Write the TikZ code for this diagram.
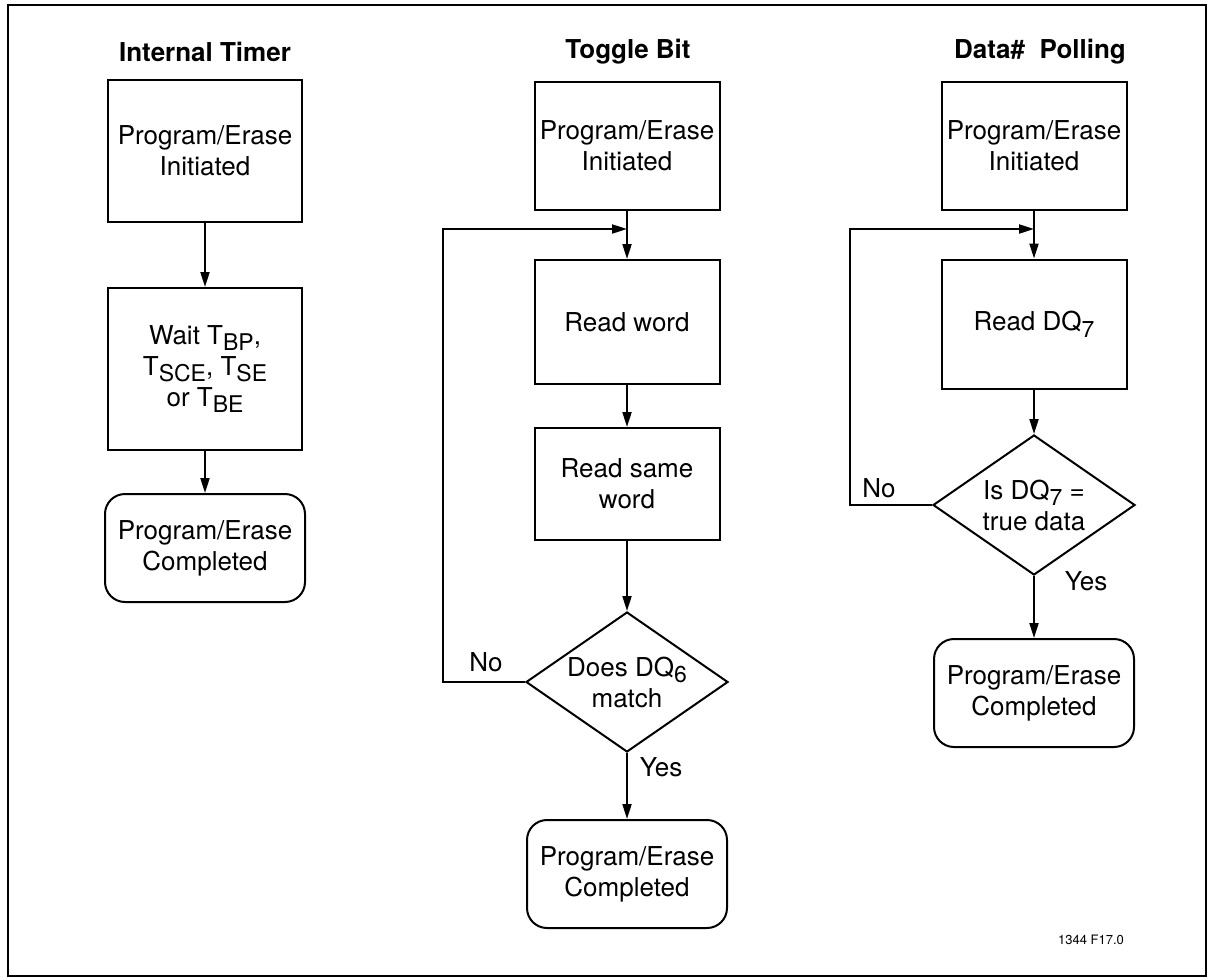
\documentclass[tikz,border=0pt]{standalone}
\usepackage{fontspec}
\setmainfont{TeX Gyre Heros}
\usetikzlibrary{arrows.meta,shapes.geometric}

% lowered subscript as printed in the data sheet
\newcommand{\lowsub}[1]{\raisebox{-0.5ex}{\fontsize{11.5}{11.5}\selectfont #1}}

\begin{document}
\begin{tikzpicture}[x=0.5pt,y=-0.5pt,
	font=\fontsize{13}{15.5}\selectfont,
	line width=1pt,
	>={Triangle[length=7.5pt,width=4.5pt]},
	stepbox/.style={draw,align=center,inner sep=0pt},
	endbox/.style={draw,align=center,inner sep=0pt,rounded corners=10pt,
		minimum width=100pt,minimum height=54pt},
	test/.style={draw,diamond,align=center,inner sep=0pt,aspect=1.45,
		minimum width=101pt,minimum height=70pt},
	head/.style={font=\fontsize{13}{15}\selectfont\bfseries}]
	\useasboundingbox (0,0) rectangle (1213,979);
	\draw (8,5) rectangle (1206,976);
	
	% internal timer
	\node[head] (h1) at (205,52) {Internal Timer};
	\node[stepbox,minimum width=97pt,minimum height=70.5pt] (init1) at (205,151) {Program/Erase\\Initiated};
	\node[stepbox,minimum width=97pt,minimum height=81pt] (wait) at (205,369) {Wait T\lowsub{BP},\\T\lowsub{SCE}, T\lowsub{SE}\\or T\lowsub{BE}};
	\node[endbox] (done1) at (205,548) {Program/Erase\\Completed};
	\draw[->] (init1) -- (wait);
	\draw[->] (wait) -- (done1);
	
	% toggle bit
	\node[head] (h2) at (628,52) {Toggle Bit};
	\node[stepbox,minimum width=92.5pt,minimum height=64pt] (init2) at (627,146) {Program/Erase\\Initiated};
	\node[stepbox,minimum width=92.5pt,minimum height=62pt] (read2) at (627,322) {Read word};
	\node[stepbox,minimum width=92.5pt,minimum height=56pt] (same) at (627,484) {Read same\\word};
	\node[test] (dq6) at (627,682) {Does DQ\lowsub{6}\\match};
	\node[endbox] (done2) at (627,874) {Program/Erase\\Completed};
	\coordinate (back2) at (627,229);
	\draw[->] (init2) -- (read2);
	\draw[->] (read2) -- (same);
	\draw[->] (same) -- (dq6);
	\draw[->] (dq6) -- (done2);
	\draw[->] (dq6.west) -- ++(-82,0) |- (back2);
	\node (no2) at (486,662) {No};
	\node (yes2) at (661,767) {Yes};
	
	% data# polling
	\node[head] (h3) at (1040,52) {Data\#\ \ Polling};
	\node[stepbox,minimum width=92.5pt,minimum height=64pt] (init3) at (1034,146) {Program/Erase\\Initiated};
	\node[stepbox,minimum width=92.5pt,minimum height=64.5pt] (read3) at (1034,324) {Read DQ\lowsub{7}};
	\node[test] (dq7) at (1034,505) {Is DQ\lowsub{7} =\\true data};
	\node[endbox] (done3) at (1034,693) {Program/Erase\\Completed};
	\coordinate (back3) at (1034,229);
	\draw[->] (init3) -- (read3);
	\draw[->] (read3) -- (dq7);
	\draw[->] (dq7) -- (done3);
	\draw[->] (dq7.west) -- ++(-82,0) |- (back3);
	\node (no3) at (879,488) {No};
	\node (yes3) at (1086,581) {Yes};
	
	\node[font=\fontsize{6.5}{8}\selectfont] (fig) at (1091,940) {1344 F17.0};
\end{tikzpicture}
\end{document}
